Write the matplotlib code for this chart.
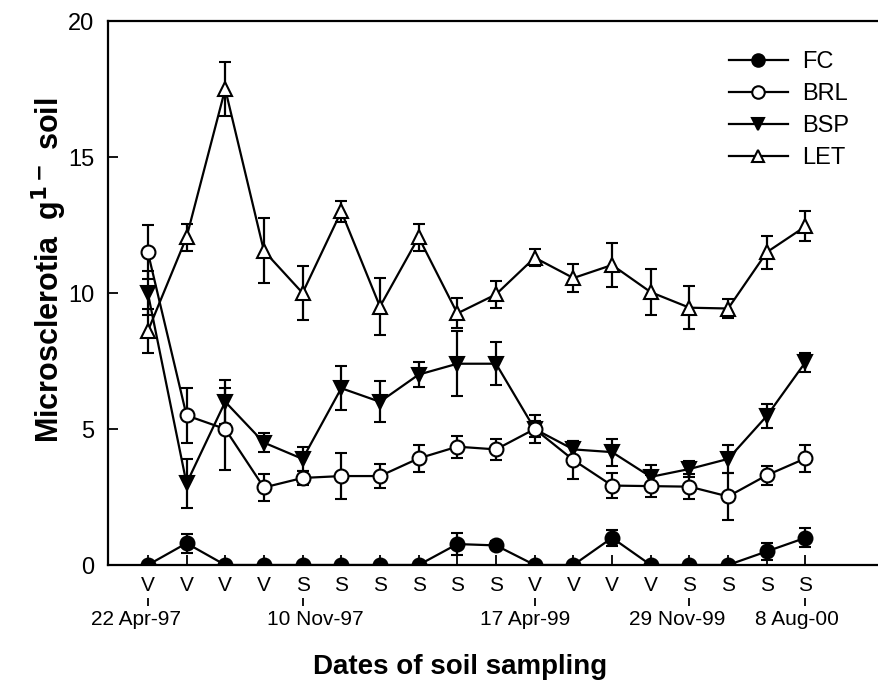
import numpy as np
import matplotlib.pyplot as plt
import matplotlib.transforms as mtransforms
from matplotlib.lines import Line2D

plt.rcParams['font.family'] = ['Liberation Sans', 'DejaVu Sans']

# sampling dates (1..18) and season codes
season = ['V', 'V', 'V', 'V', 'S', 'S', 'S', 'S', 'S', 'S',
          'V', 'V', 'V', 'V', 'S', 'S', 'S', 'S']
date_pos = [1, 5, 11, 15, 18]
date_lbl = ['22 Apr-97', '10 Nov-97', '17 Apr-99', '29 Nov-99', '8 Aug-00']

fc = [0, 0.8, 0, 0, 0, 0, 0, 0, 0.77, 0.72, 0, 0, 1.0, 0, 0, 0, 0.5, 1.0]
fc_err = [0, 0.35, 0, 0, 0, 0, 0, 0, 0.4, 0.15, 0, 0, 0.3, 0, 0, 0, 0.3, 0.35]

brl = [11.5, 5.5, 5.0, 2.85, 3.2, 3.27, 3.27, 3.92, 4.35, 4.25,
       5.0, 3.86, 2.92, 2.9, 2.88, 2.52, 3.3, 3.92]
brl_err = [1.0, 1.0, 1.5, 0.5, 0.27, 0.83, 0.45, 0.5, 0.4, 0.4,
           0.5, 0.7, 0.45, 0.4, 0.45, 0.85, 0.35, 0.5]

bsp = [10.0, 3.0, 6.0, 4.5, 3.9, 6.5, 6.0, 7.0, 7.4, 7.4,
       5.0, 4.25, 4.15, 3.24, 3.53, 3.9, 5.48, 7.46]
bsp_err = [0.8, 0.9, 0.8, 0.35, 0.45, 0.8, 0.75, 0.45, 1.2, 0.8,
           0.3, 0.3, 0.5, 0.45, 0.3, 0.5, 0.45, 0.35]

let = [8.6, 12.05, 17.5, 11.55, 10.0, 13.0, 9.5, 12.05, 9.25, 9.95,
       11.3, 10.55, 11.03, 10.03, 9.46, 9.43, 11.5, 12.45]
let_err = [0.8, 0.5, 1.0, 1.2, 1.0, 0.4, 1.05, 0.5, 0.55, 0.5,
           0.3, 0.5, 0.8, 0.85, 0.8, 0.35, 0.6, 0.55]

x = np.arange(1, len(season) + 1)

fig = plt.figure(figsize=(8.79, 6.8), dpi=100)
ax = fig.add_axes([108 / 879, 1 - 565 / 680, 1 - 108 / 879, 544 / 680])

style = dict(color='black', lw=1.6, capsize=4, capthick=1.6, elinewidth=1.6,
             markersize=10, markeredgewidth=1.5)
ax.errorbar(x, let, yerr=let_err, marker='^', mfc='white', zorder=3, **style)
ax.errorbar(x, bsp, yerr=bsp_err, marker='v', mfc='black', zorder=4, **style)
ax.errorbar(x, brl, yerr=brl_err, marker='o', mfc='white', zorder=5, **style)
ax.errorbar(x, fc, yerr=fc_err, marker='o', mfc='black', zorder=6, **style)

ax.set_xlim(-0.03, 19.9)
ax.set_ylim(0, 20)
ax.set_yticks([0, 5, 10, 15, 20])
ax.set_xticks(x)
ax.set_xticklabels(season)
ax.tick_params(axis='both', direction='in', length=7, width=1.3)
ax.tick_params(axis='x', pad=8, labelsize=15)
ax.tick_params(axis='y', pad=10, labelsize=17)
ax.spines['right'].set_visible(False)
for s in ['top', 'bottom', 'left']:
    ax.spines[s].set_linewidth(1.6)

# date ticks under the season codes
sec = ax.secondary_xaxis(-0.06)
sec.set_xticks(date_pos)
sec.set_xticklabels([''] * len(date_pos))
sec.spines['bottom'].set_visible(False)
sec.tick_params(direction='out', length=6, width=1.3)

# date labels are nudged a little off their ticks, like in the original
nudge = [-8.6, 9.4, -7.2, -8.6, -6.5]
trans = mtransforms.blended_transform_factory(ax.transData, ax.transAxes)
for p, lbl, dx in zip(date_pos, date_lbl, nudge):
    off = mtransforms.ScaledTranslation(dx / 72, 0, fig.dpi_scale_trans)
    ax.text(p, -0.101, lbl, transform=trans + off, ha='center', va='center',
            fontsize=15, clip_on=False)

ax.set_xlabel('Dates of soil sampling', fontsize=20, fontweight='bold')
ax.xaxis.set_label_coords(0.457, -0.163)
ax.set_ylabel(r'Microsclerotia  g$^{\mathbf{1-}}$ soil', fontsize=22, fontweight='bold')
ax.yaxis.set_label_coords(-0.05, 0.542)

names = ['FC', 'BRL', 'BSP', 'LET']
marks = [('o', 'black'), ('o', 'white'), ('v', 'black'), ('^', 'white')]
handles = [Line2D([], [], color='black', lw=1.6, marker=m, mfc=f, mec='black',
                  markersize=9, markeredgewidth=1.5) for m, f in marks]
ax.legend(handles, names, loc='upper left',
          bbox_to_anchor=(0.805, 0.944), frameon=False, fontsize=17,
          handlelength=2.5, borderpad=0, borderaxespad=0, labelspacing=0.42,
          handletextpad=0.6)

plt.savefig('out.png', dpi=100)
